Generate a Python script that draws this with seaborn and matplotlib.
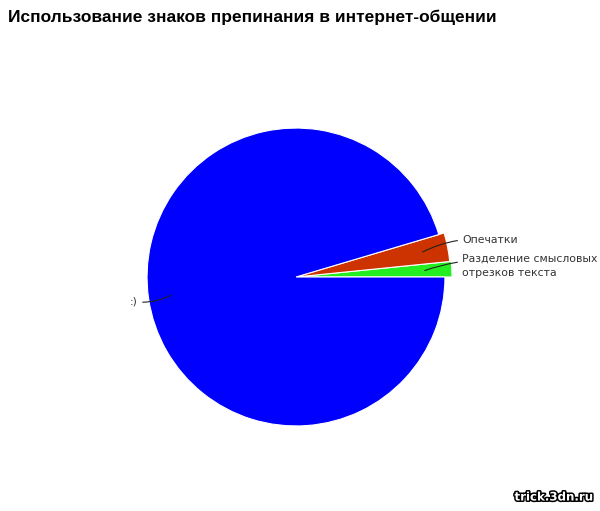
import numpy as np
import matplotlib
matplotlib.use("Agg")
import matplotlib.pyplot as plt
import matplotlib.patheffects as pe
import seaborn as sns

# данные
labels = ["Разделение смысловых\nотрезков текста", "Опечатки", ":)"]
values = [1.6, 3.0, 95.4]
colors = ["#22ee22", "#cc3300", "#0000ff"]
radii = [1.04, 1.03, 0.993]

sns.set_style("white")
plt.rcParams['font.family'] = ['DejaVu Sans']

fig = plt.figure(figsize=(6.0, 5.11), dpi=100)
fig.patch.set_facecolor("white")
# оси 300x300 px, центр круга в (296, 277)
ax = fig.add_axes([146 / 600, 1 - 427 / 511, 300 / 600, 300 / 511])
wedges, _ = ax.pie(values, colors=colors, startangle=0,
                   counterclock=True, radius=0.993,
                   wedgeprops=dict(edgecolor="white", linewidth=0.8))
for w, r in zip(wedges, radii):
    w.set_radius(r)
ax.set_xlim(-1, 1)
ax.set_ylim(-1, 1)
ax.set_aspect("equal")
ax.axis("off")

# подписи с выносками
text_pos = [(1.107, 0.075), (1.107, 0.247), (-1.053, -0.165)]
aligns = ["left", "left", "right"]
for w, lab, tp, ha in zip(wedges, labels, text_pos, aligns):
    ang = np.deg2rad((w.theta1 + w.theta2) / 2)
    r = 0.86 if ha == "left" else 0.84
    xy = (r * np.cos(ang), r * np.sin(ang))
    ax.annotate(lab, xy=xy, xytext=tp, ha=ha, va="center", fontsize=7.8,
                color="#333333", linespacing=1.5,
                arrowprops=dict(arrowstyle="-", color="#222222", lw=0.8,
                                connectionstyle="arc3,rad=0.15",
                                shrinkA=1, shrinkB=0))

fig.text(8 / 600, 1 - 17 / 511, "Использование знаков препинания в интернет-общении",
         fontsize=12.5, fontweight="bold", ha="left", va="center", color="black",
         family=["Liberation Sans", "DejaVu Sans"])

fig.text(593 / 600, 1 - 497 / 511, "trick.3dn.ru", fontsize=8.5, fontweight="bold",
         ha="right", va="center", color="white",
         path_effects=[pe.withStroke(linewidth=2.2, foreground="black")])

fig.savefig("out.png", dpi=100, facecolor="white")
